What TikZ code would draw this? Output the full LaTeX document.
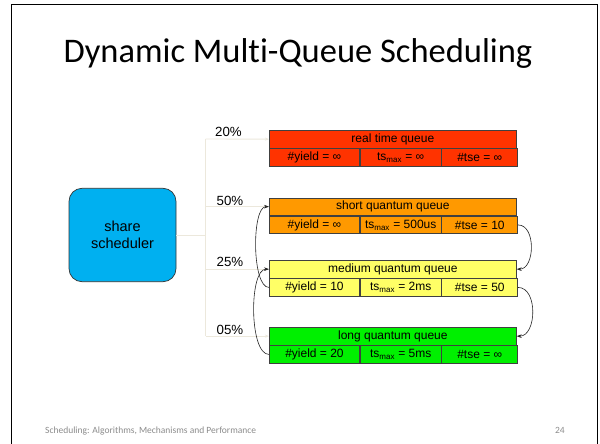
\documentclass[tikz,border=0pt]{standalone}
\usepackage{fontspec}
\setmainfont{Carlito}[Ligatures=NoCommon]
\newfontfamily\arialfont{Liberation Sans}
\usetikzlibrary{arrows.meta}

\definecolor{rtred}{HTML}{FF3300}
\definecolor{sqorange}{HTML}{FF9900}
\definecolor{mqyellow}{HTML}{FFFF66}
\definecolor{lqgreen}{HTML}{00F000}
\definecolor{schedblue}{HTML}{00B0F0}
\definecolor{treeline}{HTML}{ECE8DC}
\definecolor{footgray}{HTML}{8C8C8C}

% one queue: name, top y, fill, title, three parameter cells
\newcommand\drawqueue[7]{%
  \node[qhead, fill=#3] (#1-h) at (269,#2) {#4};
  \node[qcell, fill=#3, minimum width=90.3pt] (#1-c1) at (#1-h.south west) {#5};
  \node[qcell, fill=#3, minimum width=80.7pt] (#1-c2) at (#1-c1.north east) {#6};
  \node[qcell, fill=#3, minimum width=76pt]   (#1-c3) at (#1-c2.north east) {#7};
}

\begin{document}
\begin{tikzpicture}[x=1pt, y=-1pt,
  qhead/.style={draw=black!75, line width=0.7pt, anchor=north west, inner sep=0pt,
    minimum width=247pt, minimum height=17.6pt, font=\arialfont\fontsize{12}{13}\selectfont},
  qcell/.style={draw=black!75, line width=0.7pt, anchor=north west, inner sep=0pt,
    minimum height=17.6pt, font=\arialfont\fontsize{12}{13}\selectfont},
  tree/.style={draw=treeline, line width=0.9pt},
  treearrow/.style={tree, -{Stealth[length=4pt,width=3pt]}},
  flow/.style={draw=black!85, line width=0.6pt, -{Stealth[length=5pt,width=3.6pt]}},
  pct/.style={anchor=base west, inner sep=0pt, font=\arialfont\fontsize{13.3}{14}\selectfont}]

\useasboundingbox (0,0) rectangle (600,444);
\fill[white] (0,0) rectangle (600,444);

% slide frame
\draw[line width=1.4pt] (11.5,470) -- (11.5,4.5) -- (597.5,4.5) -- (597.5,470);

% title and footer
\node[anchor=base, inner sep=0pt, font=\fontsize{34.5}{40}\selectfont] (title) at (298,63)
  {Dynamic Multi-Queue Scheduling};
\node[anchor=base west, inner sep=0pt, text=footgray, font=\fontsize{9.5}{11}\selectfont] (foot) at (45,433.5)
  {Scheduling: Algorithms, Mechanisms and Performance};
\node[anchor=base east, inner sep=0pt, text=footgray, font=\fontsize{9.5}{11}\selectfont] (page) at (565,433.5) {24};

% scheduler
\node[draw=black!80, line width=0.7pt, fill=schedblue, rounded corners=13pt,
  minimum width=107pt, minimum height=93.4pt, inner sep=0pt, align=center,
  font=\arialfont\fontsize{14.5}{17.3}\selectfont] (sched) at (122.5,235) {share\\scheduler};

% queues
\drawqueue{rt}{130}{rtred}{real time queue}{\#yield = ∞}{ts\textsubscript{max} = ∞}{\#tse = ∞}
\drawqueue{sq}{197.5}{sqorange}{short quantum queue}{\#yield = ∞}{ts\textsubscript{max} = 500us}{\#tse = 10}
\drawqueue{mq}{260}{mqyellow}{medium quantum queue}{\#yield = 10}{ts\textsubscript{max} = 2ms}{\#tse = 50}
\drawqueue{lq}{327}{lqgreen}{long quantum queue}{\#yield = 20}{ts\textsubscript{max} = 5ms}{\#tse = ∞}

% share distribution tree
\coordinate (jt) at (205.7,139);
\coordinate (jb) at (205.7,335.8);
\draw[tree] (sched.east) -- (sched.east -| jt);
\draw[tree] (jt) -- (jb);
\draw[treearrow] (jt) -- (rt-h.west);
\draw[treearrow] (sq-h.west -| jt) -- (sq-h.west);
\draw[treearrow] (mq-h.west -| jt) -- (mq-h.west);
\draw[treearrow] (lq-h.west -| jt) -- (lq-h.west);

% share labels
\node[pct] (p20) at (215,136.7) {20\%};
\node[pct] (p50) at (216.5,205) {50\%};
\node[pct] (p25) at (216.5,266.5) {25\%};
\node[pct] (p05) at (216.5,334) {05\%};

% demotion arrows
\draw[flow] (sq-c3.east) to[out=0, in=0, looseness=1.05] (mq-h.east);
\draw[flow] (mq-c3.east) to[out=0, in=0, looseness=1.05] (lq-h.east);
% promotion arrows
\draw[flow] (mq-c1.west) to[out=180, in=180, looseness=0.55] (sq-h.west);
\draw[flow] (lq-c1.west) to[out=180, in=180, looseness=0.6] (mq-h.west);
\end{tikzpicture}
\end{document}
